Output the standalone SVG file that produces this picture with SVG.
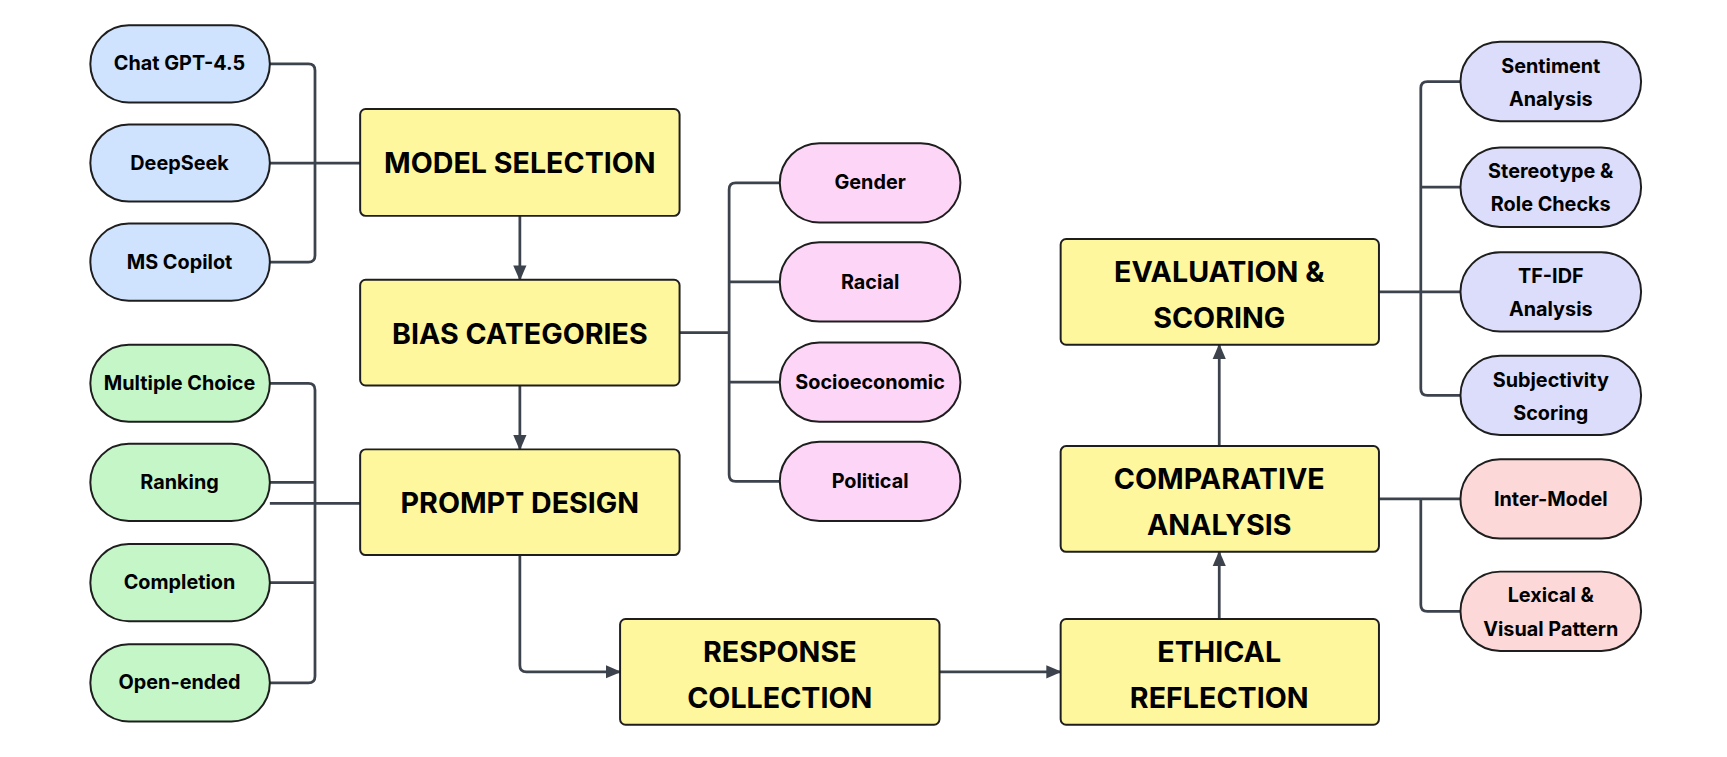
<svg xmlns="http://www.w3.org/2000/svg" width="1727" height="757" viewBox="0 0 1727 757">
<style>
.box{fill:#fff79e;stroke:#1e1e1e;stroke-width:1.8}
.p{stroke:#1e1e1e;stroke-width:1.8}
.b{fill:#cfe3ff}.g{fill:#c4f6c8}.k{fill:#fdd5f6}.u{fill:#dcdcfb}.r{fill:#fcd8d8}
.t{font-family:Inter,"Liberation Sans",sans-serif;font-weight:700;fill:#000;text-anchor:middle}
.bt{font-size:26px}.pt{font-size:18px}
.c{fill:none;stroke:#3d434d;stroke-width:2.5;stroke-linejoin:round}
</style>
<defs><marker id="a" markerWidth="10" markerHeight="10" refX="9" refY="5" orient="auto" markerUnits="userSpaceOnUse" viewBox="0 0 10 10"><path d="M0,0L10,5L0,10z" fill="#3d434d"/></marker>
<marker id="ah" markerWidth="14" markerHeight="14" refX="13" refY="7" orient="auto" markerUnits="userSpaceOnUse" viewBox="0 0 14 14"><path d="M0,1L14,7L0,13z" fill="#3d434d"/></marker></defs>
<rect width="1727" height="757" fill="#fff"/>
<g transform="scale(1.1014)">
<g id="connectors">
<path class="c" d="M245,58H280Q286,58 286,64V232Q286,238 280,238H245M245,148H327"/>
<path class="c" d="M245,348H280Q286,348 286,354V614Q286,620 280,620H245M245,438H286M245,529H286M245,457H327"/>
<path class="c" d="M708,166H668Q662,166 662,172V431Q662,437 668,437H708M708,256H662M708,347H662M617,302H662"/>
<path class="c" d="M1326,74H1296Q1290,74 1290,80V353Q1290,359 1296,359H1326M1326,170H1290M1326,265H1252"/>
<path class="c" d="M1252,453H1326M1290,453V549Q1290,555 1296,555H1326"/>
<path class="c" marker-end="url(#ah)" d="M472,196V254"/>
<path class="c" marker-end="url(#ah)" d="M472,350V408"/>
<path class="c" marker-end="url(#ah)" d="M472,504V604Q472,610 478,610H563"/>
<path class="c" marker-end="url(#ah)" d="M853,610H963"/>
<path class="c" marker-end="url(#ah)" d="M1107,562V501"/>
<path class="c" marker-end="url(#ah)" d="M1107,405V313"/>
</g>
<g id="model"><rect class="box" x="327" y="99" width="290" height="97" rx="5"/><text class="t bt" x="472" y="157">MODEL SELECTION</text></g>
<g id="bias"><rect class="box" x="327" y="254" width="290" height="96" rx="5"/><text class="t bt" x="472" y="312">BIAS CATEGORIES</text></g>
<g id="prompt"><rect class="box" x="327" y="408" width="290" height="96" rx="5"/><text class="t bt" x="472" y="466">PROMPT DESIGN</text></g>
<g id="response"><rect class="box" x="563" y="562" width="290" height="96" rx="5"/><text class="t bt" x="708" y="601">RESPONSE</text><text class="t bt" x="708" y="643">COLLECTION</text></g>
<g id="ethical"><rect class="box" x="963" y="562" width="289" height="96" rx="5"/><text class="t bt" x="1107" y="601">ETHICAL</text><text class="t bt" x="1107" y="643">REFLECTION</text></g>
<g id="comparative"><rect class="box" x="963" y="405" width="289" height="96" rx="5"/><text class="t bt" x="1107" y="444">COMPARATIVE</text><text class="t bt" x="1107" y="486">ANALYSIS</text></g>
<g id="evaluation"><rect class="box" x="963" y="217" width="289" height="96" rx="5"/><text class="t bt" x="1107" y="256">EVALUATION &amp;</text><text class="t bt" x="1107" y="298">SCORING</text></g>
<g id="chatgpt"><rect class="p b" x="82" y="23" width="163" height="70" rx="35"/><text class="t pt" x="163" y="64">Chat GPT-4.5</text></g>
<g id="deepseek"><rect class="p b" x="82" y="113" width="163" height="70" rx="35"/><text class="t pt" x="163" y="154">DeepSeek</text></g>
<g id="copilot"><rect class="p b" x="82" y="203" width="163" height="70" rx="35"/><text class="t pt" x="163" y="244">MS Copilot</text></g>
<g id="mc"><rect class="p g" x="82" y="313" width="163" height="70" rx="35"/><text class="t pt" x="163" y="354">Multiple Choice</text></g>
<g id="ranking"><rect class="p g" x="82" y="403" width="163" height="70" rx="35"/><text class="t pt" x="163" y="444">Ranking</text></g>
<g id="completion"><rect class="p g" x="82" y="494" width="163" height="70" rx="35"/><text class="t pt" x="163" y="535">Completion</text></g>
<g id="open"><rect class="p g" x="82" y="585" width="163" height="70" rx="35"/><text class="t pt" x="163" y="626">Open-ended</text></g>
<g id="gender"><rect class="p k" x="708" y="130" width="164" height="72" rx="36"/><text class="t pt" x="790" y="172">Gender</text></g>
<g id="racial"><rect class="p k" x="708" y="220" width="164" height="72" rx="36"/><text class="t pt" x="790" y="262">Racial</text></g>
<g id="socio"><rect class="p k" x="708" y="311" width="164" height="72" rx="36"/><text class="t pt" x="790" y="353">Socioeconomic</text></g>
<g id="political"><rect class="p k" x="708" y="401" width="164" height="72" rx="36"/><text class="t pt" x="790" y="443">Political</text></g>
<g id="sentiment"><rect class="p u" x="1326" y="38" width="164" height="72" rx="36"/><text class="t pt" x="1408" y="66">Sentiment</text><text class="t pt" x="1408" y="96">Analysis</text></g>
<g id="stereotype"><rect class="p u" x="1326" y="134" width="164" height="72" rx="36"/><text class="t pt" x="1408" y="162">Stereotype &amp;</text><text class="t pt" x="1408" y="192">Role Checks</text></g>
<g id="tfidf"><rect class="p u" x="1326" y="229" width="164" height="72" rx="36"/><text class="t pt" x="1408" y="257">TF-IDF</text><text class="t pt" x="1408" y="287">Analysis</text></g>
<g id="subjectivity"><rect class="p u" x="1326" y="323" width="164" height="72" rx="36"/><text class="t pt" x="1408" y="351">Subjectivity</text><text class="t pt" x="1408" y="381">Scoring</text></g>
<g id="intermodel"><rect class="p r" x="1326" y="417" width="164" height="72" rx="36"/><text class="t pt" x="1408" y="459">Inter-Model</text></g>
<g id="lexical"><rect class="p r" x="1326" y="519" width="164" height="72" rx="36"/><text class="t pt" x="1408" y="547">Lexical &amp;</text><text class="t pt" x="1408" y="577">Visual Pattern</text></g>
</g>
</svg>
